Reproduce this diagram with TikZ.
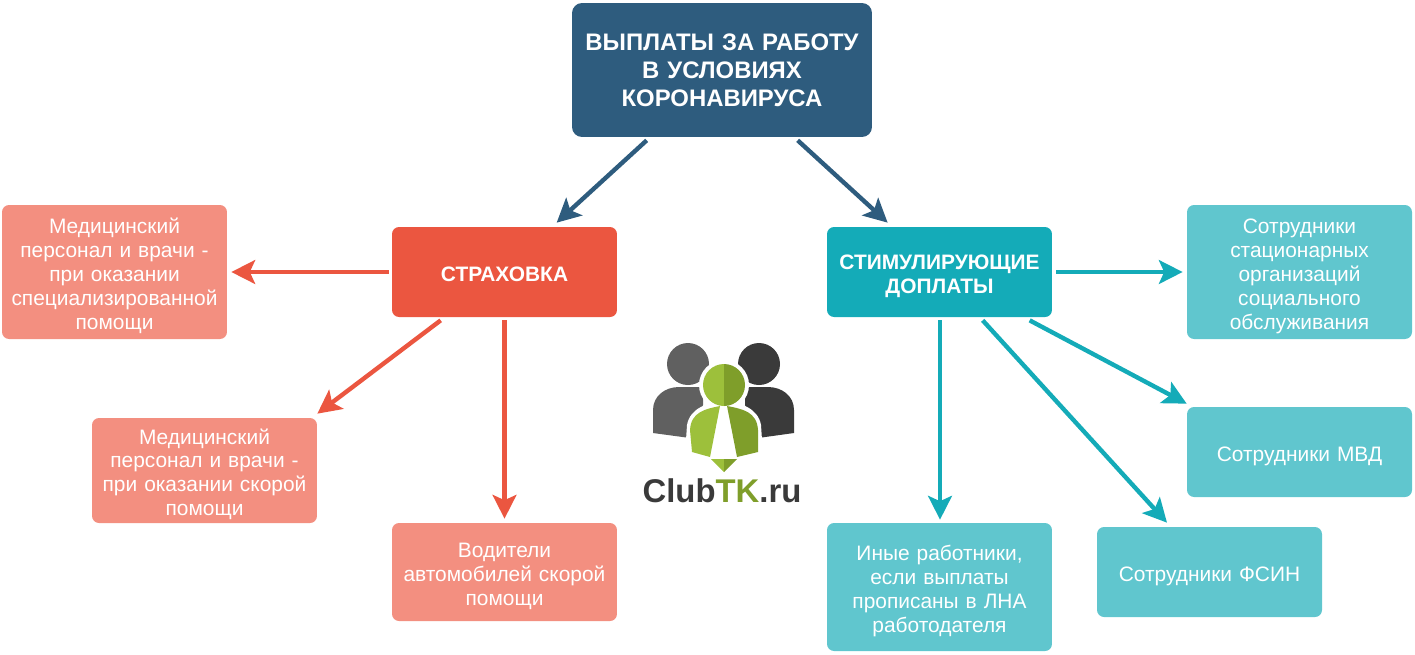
\documentclass[tikz,border=0pt]{standalone}
\usepackage{fontspec}
\setmainfont{Liberation Sans}
\usetikzlibrary{arrows.meta}

\definecolor{mainblue}{HTML}{2E5C7E}
\definecolor{redstrong}{HTML}{EB5640}
\definecolor{redlight}{HTML}{F38F80}
\definecolor{tealstrong}{HTML}{14ABB8}
\definecolor{teallight}{HTML}{60C6CE}
\definecolor{greylight}{HTML}{606060}
\definecolor{greydark}{HTML}{3A3A3A}
\definecolor{greenlight}{HTML}{9DC03B}
\definecolor{greendark}{HTML}{7F9E2A}

\tikzset{
    box/.style = {rounded corners=0.14cm, text=white, align=center, inner sep=0pt,
        minimum width=4.5cm, text width=4.4cm, font=\fontsize{11.9}{13.6}\selectfont},
    lowered/.style = {execute at begin node={\rule{0pt}{#1}}},
    headbox/.style = {box, font=\fontsize{11.9}{13.6}\selectfont\bfseries},
    arrow/.style = {-{Stealth[length=13.5pt,width=13.5pt,inset=3pt]}, line width=2.5pt},
}

\begin{document}
\begin{tikzpicture}[x=0.02cm, y=-0.02cm]
        \useasboundingbox (0,0) rectangle (1415,654);

        % Draw the top box
        \node[box, fill=mainblue, minimum width=6cm, text width=5.8cm, minimum height=2.68cm,
            rounded corners=0.2cm, font=\fontsize{13.6}{15.9}\selectfont\bfseries]
            (main) at (722,70) {ВЫПЛАТЫ ЗА РАБОТУ\\В УСЛОВИЯХ\\КОРОНАВИРУСА};

        % Draw the two heads
        \node[headbox, fill=redstrong, minimum height=1.8cm, lowered=10.7pt] (strah) at (504.5,272) {СТРАХОВКА};
        \node[headbox, fill=tealstrong, minimum height=1.8cm, lowered=13pt] (stim) at (939.5,272) {СТИМУЛИРУЮЩИЕ\\ДОПЛАТЫ};

        % Draw the leaves
        \foreach \pos/\i/\c/\h/\txt in {
            (114.5,272)/medspec/redlight/2.68/{Медицинский\\персонал и врачи -\\при оказании\\специализированной\\помощи},
            (204.5,470.5)/medfast/redlight/2.1/{Медицинский\\персонал и врачи -\\при оказании скорой\\помощи},
            (504.5,572)/driver/redlight/1.96/{Водители\\автомобилей скорой\\помощи},
            (1299.5,272)/social/teallight/2.68/{Сотрудники\\стационарных\\организаций\\социального\\обслуживания},
            (1299.5,452)/mvd/teallight/1.8/{Сотрудники МВД},
            (1209.5,572)/fsin/teallight/1.8/{Сотрудники ФСИН},
            (939.5,587)/other/teallight/2.56/{Иные работники,\\если выплаты\\прописаны в ЛНА\\работодателя}} {
            \node[box, fill=\c, minimum height=\h cm, lowered=13pt] (\i) at \pos {\txt};
        }

        % Draw the arrows
        \foreach \b/\bx/\by/\e/\ex/\ey/\c in {
            main.south west/75/3/strah.north west/165/-4/mainblue,
            main.south west/226/3/stim.north west/61/-4/mainblue,
            strah.west/-3/0/medspec.east/4/0/redstrong,
            strah.south west/49/3/medfast.north east/0/-4/redstrong,
            strah.south/0/3/driver.north/0/-4/redstrong,
            stim.east/4/0/social.west/-4/0/tealstrong,
            stim.south west/203/3/mvd.north west/0/-3/tealstrong,
            stim.south west/156/3/fsin.north/-42.5/-4/tealstrong,
            stim.south/0.5/3/other.north/0.5/-3/tealstrong} {
            \draw[arrow, \c] ([shift={(\bx,\by)}]\b) -- ([shift={(\ex,\ey)}]\e);
        }

        % Draw the logo
        \fill[greylight] (688,364) circle (21);
        \fill[greydark] (759,364) circle (21);
        \fill[greylight] (653,433) -- (653,410) .. controls (653,396) and (665,387) .. (679,387)
            -- (703,387) -- (703,405) -- (690,438) -- cycle;
        \fill[greydark] (794,433) -- (794,410) .. controls (794,396) and (782,387) .. (768,387)
            -- (745,387) -- (745,405) -- (758,438) -- cycle;
        \fill[white] (724,385) circle (25);
        \fill[white] (686,440) -- (687,425) .. controls (690,408) and (708,402) .. (724,402)
            .. controls (740,402) and (758,408) .. (761,425) -- (762,440) -- (724,462) -- cycle;
        \fill[greenlight] (724,364) arc (-90:-270:21) -- cycle;
        \fill[greendark] (724,364) arc (-90:90:21) -- cycle;
        \fill[greenlight] (690,430) .. controls (691,412) and (705,409) .. (720,406)
            -- (710,457) -- (692,452) -- cycle;
        \fill[greendark] (758,430) .. controls (757,412) and (743,409) .. (727,406)
            -- (737,457) -- (758,452) -- cycle;
        \fill[greenlight] (711,459) -- (724,459) -- (724,472) -- cycle;
        \fill[greendark] (737,459) -- (724,459) -- (724,472) -- cycle;
        \node[font=\fontsize{18.7}{20}\selectfont\bfseries, text=greydark, inner sep=0pt]
            (logo) at (722,491) {Club\textcolor{greendark}{TK}.ru};
    \end{tikzpicture}
\end{document}
